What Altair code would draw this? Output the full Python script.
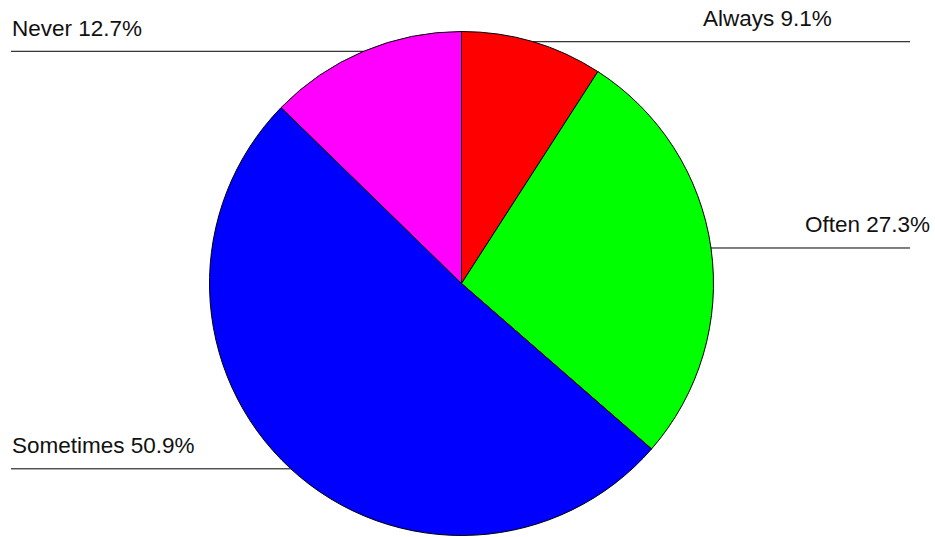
import math
import altair as alt
import pandas as pd

# ---- data ----
categories = ["Always", "Often", "Sometimes", "Never"]
percents = [9.1, 27.3, 50.9, 12.7]
colors = ["#ff0000", "#00ff00", "#0000ff", "#ff00ff"]

# ---- layout / style ----
W, H = 935, 537
CX, CY, R = 461.5, 283.5, 252
LEFT_X, RIGHT_X = 11, 910
FONT = "Liberation Sans"
FS = 22.5
# label placement style per label: (align, x)
label_style = {
    "Always": ("left", 703),
    "Often": ("right", 930),
    "Sometimes": ("left", 12),
    "Never": ("left", 12),
}

rows = []
cum = 0.0
for i, (c, p) in enumerate(zip(categories, percents)):
    mid = (cum + p / 2) / 100 * 2 * math.pi
    cum += p
    ex = CX + R * math.sin(mid)
    ey = CY - R * math.cos(mid)
    right = math.sin(mid) > 0
    align, lx = label_style[c]
    rows.append({
        "cat": c, "pct": p, "order": i,
        "label": f"{c} {p}%",
        "lx1": ex if right else LEFT_X,
        "lx2": RIGHT_X if right else ex,
        "ly": ey,
        "tx": lx, "ty": ey - 15.5, "align": align,
    })
df = pd.DataFrame(rows)

pie = alt.Chart(df).mark_arc(outerRadius=R, stroke="black", strokeWidth=1).encode(
    theta=alt.Theta("pct:Q", stack=True),
    order=alt.Order("order:Q"),
    color=alt.Color("cat:N", scale=alt.Scale(domain=categories, range=colors), legend=None),
    x=alt.value(CX), y=alt.value(CY),
)

rules = alt.Chart(df).mark_rule(color="black", strokeWidth=1).encode(
    x=alt.X("lx1:Q", scale=None), x2="lx2:Q", y=alt.Y("ly:Q", scale=None)
)

def text_layer(align):
    return alt.Chart(df).transform_filter(alt.datum.align == align).mark_text(
        align=align, baseline="alphabetic", font=FONT, fontSize=FS, color="#111111"
    ).encode(
        x=alt.X("tx:Q", scale=None), y=alt.Y("ty:Q", scale=None), text="label:N"
    )

chart = alt.layer(pie, rules, text_layer("left"), text_layer("right")).properties(
    width=W, height=H, padding=0, autosize=alt.AutoSizeParams(type="none")
).configure_view(stroke=None)

chart.save("out.html", embed_options={"renderer": "svg", "actions": False})
